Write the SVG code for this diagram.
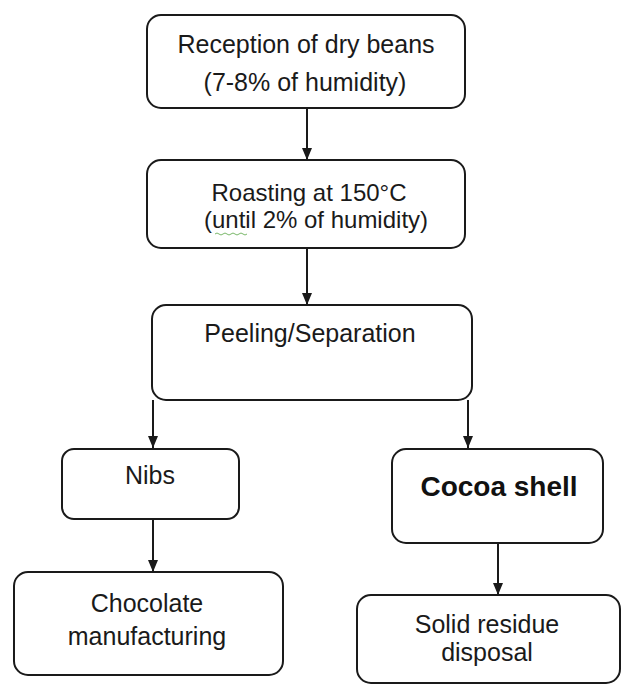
<svg xmlns="http://www.w3.org/2000/svg" width="625" height="688" viewBox="0 0 625 688">
<style>
.box{fill:#fff;stroke:#1a1a1a;stroke-width:2}
.t{font-family:"Liberation Sans",Arial,sans-serif;font-size:25px;fill:#1a1a1a;text-anchor:middle}
.b{font-family:"Liberation Sans",Arial,sans-serif;font-size:28px;font-weight:bold;fill:#111;text-anchor:middle}
.c{stroke:#1a1a1a;stroke-width:2;fill:none;marker-end:url(#ah)}
</style>
<defs>
<marker id="ah" viewBox="0 0 12 10" refX="12" refY="5" markerWidth="12" markerHeight="10" markerUnits="userSpaceOnUse" orient="auto">
<path d="M0,0 L12,5 L0,10 Z" fill="#1a1a1a"/>
</marker>
</defs>
<rect width="625" height="688" fill="#fff"/>
<g id="connectors">
<line class="c" x1="307" y1="108" x2="307" y2="160"/>
<line class="c" x1="307" y1="248" x2="307" y2="305"/>
<line class="c" x1="153" y1="400" x2="153" y2="448"/>
<line class="c" x1="468" y1="400" x2="468" y2="448"/>
<line class="c" x1="153" y1="519" x2="153" y2="572"/>
<line class="c" x1="498" y1="543" x2="498" y2="595"/>
</g>
<g id="reception">
<rect class="box" x="147" y="15" width="318" height="93" rx="14"/>
<text class="t" x="306" y="53">Reception of dry beans</text>
<text class="t" x="305" y="91">(7-8% of humidity)</text>
</g>
<g id="roasting">
<rect class="box" x="147" y="160" width="318" height="88" rx="14"/>
<text class="t" x="309" y="201" style="font-size:24px">Roasting at 150°C</text>
<text class="t" x="316" y="228" style="font-size:24px">(until 2% of humidity)</text>
<path d="M215,234 q2,-2 4,0 t4,0 t4,0 t4,0 t4,0 t4,0 t4,0 t4,0" fill="none" stroke="#7ab86a" stroke-width="1"/>
</g>
<g id="peeling">
<rect class="box" x="152" y="305" width="320" height="95" rx="14"/>
<text class="t" x="310" y="342">Peeling/Separation</text>
</g>
<g id="nibs">
<rect class="box" x="62" y="449" width="177" height="70" rx="12"/>
<text class="t" x="150" y="484">Nibs</text>
</g>
<g id="chocolate">
<rect class="box" x="14" y="572" width="269" height="103" rx="14"/>
<text class="t" x="147" y="612">Chocolate</text>
<text class="t" x="147" y="645">manufacturing</text>
</g>
<g id="shell">
<rect class="box" x="392" y="449" width="211" height="94" rx="14"/>
<text class="b" x="499" y="496">Cocoa shell</text>
</g>
<g id="disposal">
<rect class="box" x="357" y="595" width="263" height="88" rx="14"/>
<text class="t" x="487" y="633">Solid residue</text>
<text class="t" x="487" y="661">disposal</text>
</g>
</svg>
